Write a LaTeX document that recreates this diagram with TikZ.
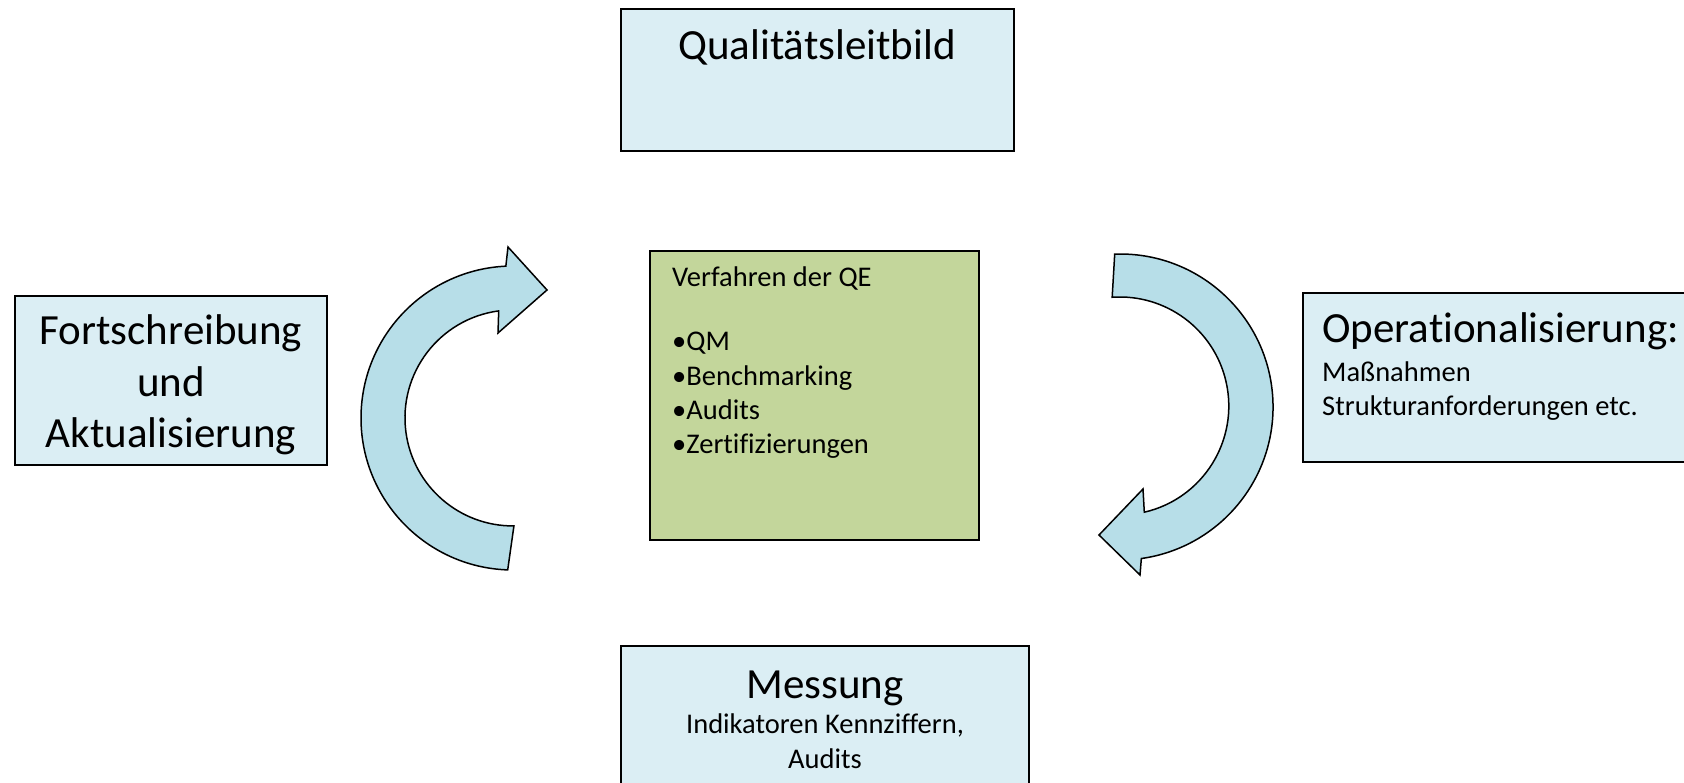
\documentclass[tikz,border=0pt]{standalone}
\usepackage{fontspec}
\setmainfont{Carlito}[Ligatures={NoCommon,NoContextual}]
\definecolor{boxblue}{HTML}{DBEEF4}
\definecolor{boxgreen}{HTML}{C3D69B}
\definecolor{arrowfill}{HTML}{B7DEE8}
\tikzset{
  bluebox/.style={draw=black, fill=boxblue, line width=1.5pt, rectangle, inner sep=0pt},
  greenbox/.style={draw=black, fill=boxgreen, line width=1.5pt, rectangle, inner sep=0pt},
  bigtxt/.style={font=\fontsize{43}{52}\selectfont, inner sep=0pt, anchor=base},
  smalltxt/.style={font=\fontsize{28.5}{34}\selectfont, inner sep=0pt, anchor=base},
  bendarrow/.style={draw=black, fill=arrowfill, line width=1.5pt, line join=miter},
}
\begin{document}
\begin{tikzpicture}[x=1pt,y=-1pt]
\useasboundingbox (0,0) rectangle (1684,783);
\clip (0,0) rectangle (1684,783);

% boxes
\node[bluebox, minimum width=393pt, minimum height=142pt] (leitbild) at (817.5,80) {};
\node[bluebox, minimum width=312pt, minimum height=169pt] (fort) at (171,380.5) {};
\node[greenbox, minimum width=329pt, minimum height=289pt] (verf) at (814.5,395.5) {};
\node[bluebox, minimum width=420pt, minimum height=169pt] (oper) at (1513,377.5) {};
\node[bluebox, minimum width=408pt, minimum height=200pt] (mess) at (825,746) {};

% texts
\node[bigtxt] (tleit) at (817,60) {Qualitätsleitbild};

\node[bigtxt] (tfort1) at (171,345) {Fortschreibung};
\node[bigtxt] (tfort2) at (171,396) {und};
\node[bigtxt] (tfort3) at (171,447) {Aktualisierung};

\node[smalltxt, anchor=base west] (tverf0) at (672,287) {Verfahren der QE};
\node[smalltxt, anchor=base west] (tverf1) at (672,351) {•QM};
\node[smalltxt, anchor=base west] (tverf2) at (672,385) {•Benchmarking};
\node[smalltxt, anchor=base west] (tverf3) at (672,419) {•Audits};
\node[smalltxt, anchor=base west] (tverf4) at (672,453) {•Zertifizierungen};

\node[bigtxt, anchor=base west] (toper0) at (1322,343) {Operationalisierung:};
\node[smalltxt, anchor=base west] (toper1) at (1322,382) {Maßnahmen};
\node[smalltxt, anchor=base west] (toper2) at (1322,415) {Strukturanforderungen etc.};

\node[bigtxt] (tmess0) at (825,698) {Messung};
\node[smalltxt] (tmess1) at (825,733) {Indikatoren Kennziffern,};
\node[smalltxt] (tmess2) at (825,768) {Audits};

% left curved arrow (upwards, pointing right)
\draw[bendarrow] (507.7,569.9) arc[start angle=92, end angle=267.3, radius=152]
  -- (508,247) -- (547,290) -- (498,333) -- (498.7,310.9)
  arc[start angle=262.4, end angle=89.5, radius=108] -- cycle;

% right curved arrow (downwards, pointing left)
\draw[bendarrow] (1114.7,254.1) arc[start angle=-92, end angle=82, radius=153]
  -- (1140,575) -- (1099,535) -- (1143,489) -- (1144.3,512.2)
  arc[start angle=77, end angle=-94, radius=109] -- cycle;
\end{tikzpicture}
\end{document}
